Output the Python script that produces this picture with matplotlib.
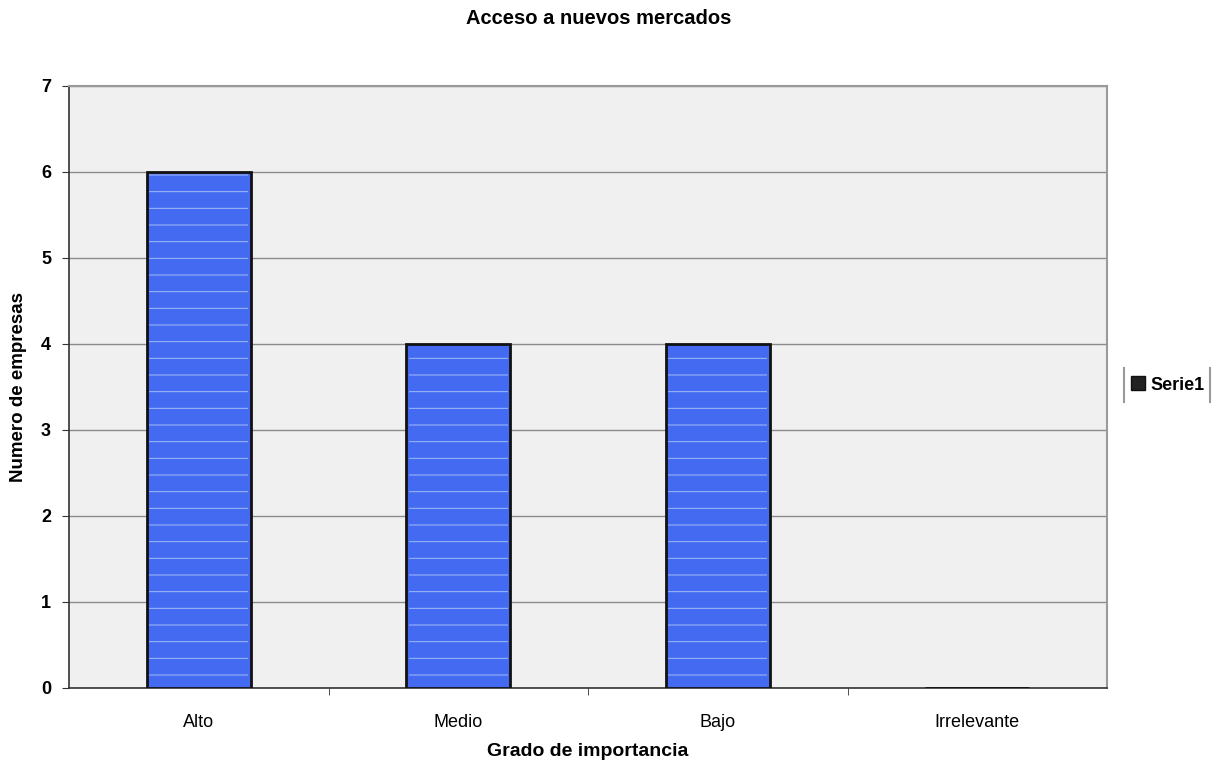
import matplotlib
matplotlib.use("Agg")
import matplotlib.pyplot as plt
from matplotlib.lines import Line2D
import numpy as np

categories = ["Alto", "Medio", "Bajo", "Irrelevante"]
values = [6, 4, 4, 0]
series_name = "Serie1"

plt.rcParams["font.family"] = ["Liberation Sans", "DejaVu Sans"]
plt.rcParams["hatch.linewidth"] = 0.7

fig = plt.figure(figsize=(12.31, 7.62), dpi=100)
ax = fig.add_axes([69 / 1231, 1 - 688 / 762, (1107 - 69) / 1231, (688 - 86) / 762])

x = np.arange(len(categories))
ax.set_facecolor("#f0f0f0")
ax.bar(x, values, width=0.4, color="#436af0", edgecolor="#111111",
       linewidth=2.0, zorder=3, label=series_name)
# faint light streaks across the fill
ax.bar(x, values, width=0.38, color="none", edgecolor="#a3bcf8",
       linewidth=0, hatch="-", zorder=4)

ax.set_xlim(-0.5, len(categories) - 0.5)
ax.set_ylim(0, 7)
ax.set_yticks(range(0, 8))
ax.yaxis.grid(True, color="#8a8a8a", linewidth=1.0, zorder=1)
ax.set_axisbelow(True)

ax.set_xticks(x)
ax.set_xticklabels(categories, fontsize=13)
ax.set_xticks(np.arange(0.5, len(categories) - 0.5, 1), minor=True)
ax.tick_params(axis="x", which="major", length=0, pad=19)
ax.tick_params(axis="x", which="minor", length=5, color="#333333", direction="out")
ax.tick_params(axis="y", length=5, color="#333333", pad=8)
for lbl in ax.get_yticklabels():
    lbl.set_fontweight("bold")
    lbl.set_fontsize(13)

for side in ("left", "bottom"):
    ax.spines[side].set_color("#333333")
    ax.spines[side].set_linewidth(1.2)
for side in ("top", "right"):
    ax.spines[side].set_color("#9a9a9a")
    ax.spines[side].set_linewidth(1.5)

ax.set_xlabel("Grado de importancia", fontsize=14, fontweight="bold", labelpad=8)
ax.set_ylabel("Numero de empresas", fontsize=13.5, fontweight="bold", labelpad=10)
fig.suptitle("Acceso a nuevos mercados", fontsize=14.5, fontweight="bold",
             x=(458 + 740) / 2 / 1231, y=1 - 18 / 762, va="center")

handle = Line2D([], [], marker="s", linestyle="none", markersize=10,
                markerfacecolor="#222222", markeredgecolor="#111111")
fig.legend([handle], [series_name], loc="center",
           bbox_to_anchor=(1168 / 1231, 1 - 385 / 762), frameon=False,
           prop={"size": 13, "weight": "bold"}, handlelength=0.8,
           handletextpad=0.3)

for xp in (1124, 1210):
    fig.add_artist(Line2D([xp / 1231, xp / 1231], [1 - 368 / 762, 1 - 402 / 762],
                          color="#9a9a9a", linewidth=1.5))

fig.savefig("out.png", dpi=100, facecolor="white")
